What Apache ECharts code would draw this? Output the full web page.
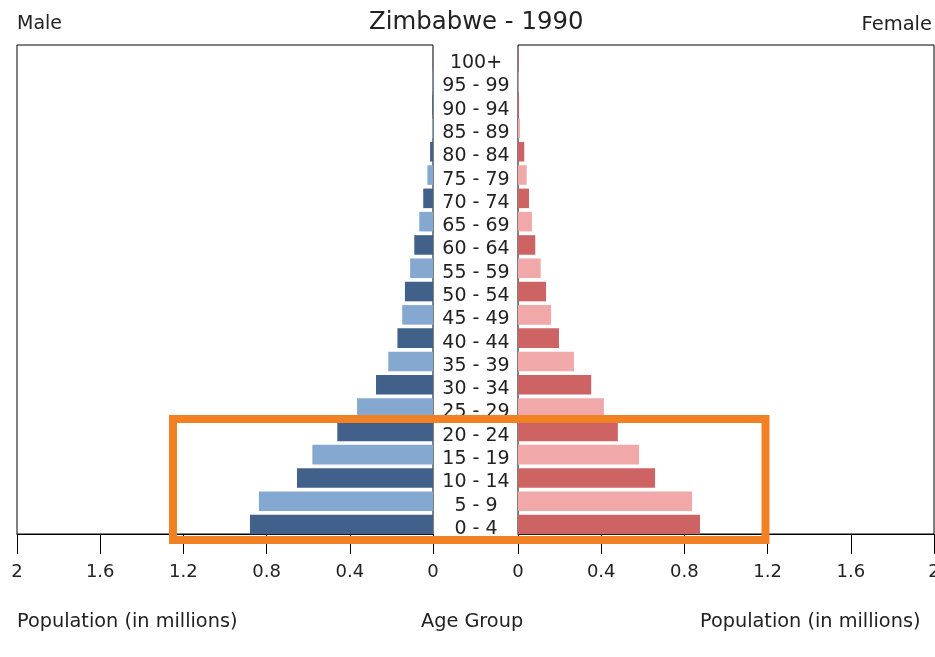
<!DOCTYPE html>
<html>
<head>
<meta charset="utf-8">
<script src="https://cdn.jsdelivr.net/npm/echarts@6/dist/echarts.min.js"></script>
<style>
html,body{margin:0;padding:0;background:#fff;}
#chart{width:935px;height:657px;}
</style>
</head>
<body>
<div id="chart"></div>
<script>
var ageGroups = ['0 - 4','5 - 9','10 - 14','15 - 19','20 - 24','25 - 29','30 - 34','35 - 39','40 - 44','45 - 49','50 - 54','55 - 59','60 - 64','65 - 69','70 - 74','75 - 79','80 - 84','85 - 89','90 - 94','95 - 99','100+'];
var maleValues = [0.880,0.837,0.654,0.580,0.460,0.365,0.274,0.215,0.171,0.148,0.135,0.110,0.090,0.066,0.047,0.027,0.014,0.005,0.003,0.002,0.001];
var femaleValues = [0.875,0.837,0.659,0.582,0.480,0.413,0.352,0.269,0.197,0.159,0.135,0.109,0.083,0.067,0.053,0.042,0.030,0.010,0.005,0.003,0.002];
var xTickValues = [0,0.4,0.8,1.2,1.6,2];
var xTickLabels = ['0','0.4','0.8','1.2','1.6','2'];
var highlightFrom = '0 - 4', highlightTo = '20 - 24';
var highlightLeftValue = 1.25, highlightRightValue = 1.19;

var maleColors = ['#41618b','#85a8d1'];
var femaleColors = ['#cd6363','#f0a8a8'];
var FONT = 'DejaVu Sans';
var txt = '#222';

function tickFmt(v){
  for (var i=0;i<xTickValues.length;i++){ if (Math.abs(v-xTickValues[i])<1e-6) return xTickLabels[i]; }
  return '';
}

var chart = echarts.init(document.getElementById('chart'), null, {renderer:'canvas'});
var gridTop = 45, gridH = 489, gridW = 416;
var barTop = 46.9, barH = 489.3;   // bars sit slightly low in their bands, as in the source
var labelTop = 51.5;               // age labels sit lower still
var leftX = 17, rightX = 518;

function frameXAxis(idx, inv){
  return {
    gridIndex:idx, inverse:inv,
    type:'value', min:0, max:2, interval:0.4,
    axisLine:{show:true, lineStyle:{color:'#000', width:1}},
    axisTick:{show:true, length:20, lineStyle:{color:'#000', width:1}},
    axisLabel:{fontFamily:FONT, fontSize:18, color:txt, margin:29, formatter:tickFmt, showMaxLabel:true, showMinLabel:true, hideOverlap:false},
    splitLine:{show:false}
  };
}
function hiddenXAxis(idx, inv){
  return {gridIndex:idx, inverse:inv, type:'value', min:0, max:2, interval:0.4,
    axisLine:{show:false}, axisTick:{show:false}, axisLabel:{show:false}, splitLine:{show:false}};
}
function hiddenYAxis(idx, pos){
  return {type:'category', gridIndex:idx, data:ageGroups, position:pos, boundaryGap:true,
    axisLine:{show:false}, axisTick:{show:false}, axisLabel:{show:false}};
}
function gridDef(left, top, h, frame){
  return {left:left, top:top, width:gridW, height:h, show:frame, borderColor:'#000', borderWidth:1,
    backgroundColor:'transparent', containLabel:false, outerBoundsMode:'none'};
}
var labelAxis = hiddenYAxis(4, 'right');
labelAxis.axisLabel = {show:true, interval:0, align:'center', margin:43, fontFamily:FONT, fontSize:19, color:txt};

var option = {
  backgroundColor:'#fff',
  animation:false,
  title:[
    {text:'Zimbabwe - 1990', left:364, top:6, textStyle:{fontFamily:FONT, fontSize:24.4, fontWeight:'normal', color:txt}},
    {text:'Male', left:12, top:10, textStyle:{fontFamily:FONT, fontSize:19, fontWeight:'normal', color:txt}},
    {text:'Female', right:-2, top:10, textStyle:{fontFamily:FONT, fontSize:19.5, fontWeight:'normal', color:txt}},
    {text:'Population (in millions)', left:12, top:607, textStyle:{fontFamily:FONT, fontSize:19.3, fontWeight:'normal', color:txt}},
    {text:'Age Group', left:416, top:607, textStyle:{fontFamily:FONT, fontSize:19.3, fontWeight:'normal', color:txt}},
    {text:'Population (in millions)', left:695, top:607, textStyle:{fontFamily:FONT, fontSize:19.3, fontWeight:'normal', color:txt}}
  ],
  grid:[
    gridDef(leftX, gridTop, gridH, true),
    gridDef(rightX, gridTop, gridH, true),
    gridDef(leftX, barTop, barH, false),
    gridDef(rightX, barTop, barH, false),
    gridDef(leftX, labelTop, gridH, false)
  ],
  xAxis:[ frameXAxis(0, true), frameXAxis(1, false), hiddenXAxis(2, true), hiddenXAxis(3, false), hiddenXAxis(4, true) ],
  yAxis:[ hiddenYAxis(0,'right'), hiddenYAxis(1,'left'), hiddenYAxis(2,'right'), hiddenYAxis(3,'left'), labelAxis ],
  series:[
    {type:'bar', name:'Male', xAxisIndex:2, yAxisIndex:2, barWidth:'84%',
     data:maleValues.map(function(v,i){return {value:v, itemStyle:{color:maleColors[i%2]}};})},
    {type:'bar', name:'Female', xAxisIndex:3, yAxisIndex:3, barWidth:'84%',
     data:femaleValues.map(function(v,i){return {value:v, itemStyle:{color:femaleColors[i%2]}};})}
  ]
};
chart.setOption(option);

// Highlight box around the youngest age groups, positioned from the axes
var band = gridH / ageGroups.length;
var yTop = chart.convertToPixel({yAxisIndex:0}, highlightTo) - band/2 + 1.5;
var yBot = chart.convertToPixel({yAxisIndex:0}, highlightFrom) + band/2 + 6;
var xL = chart.convertToPixel({xAxisIndex:0}, highlightLeftValue);
var xR = chart.convertToPixel({xAxisIndex:1}, highlightRightValue);
chart.setOption({
  graphic:[{type:'rect', z:100, silent:true,
    shape:{x:xL, y:yTop, width:xR-xL, height:yBot-yTop},
    style:{fill:'none', stroke:'#f28123', lineWidth:8}}]
});
</script>
</body>
</html>
